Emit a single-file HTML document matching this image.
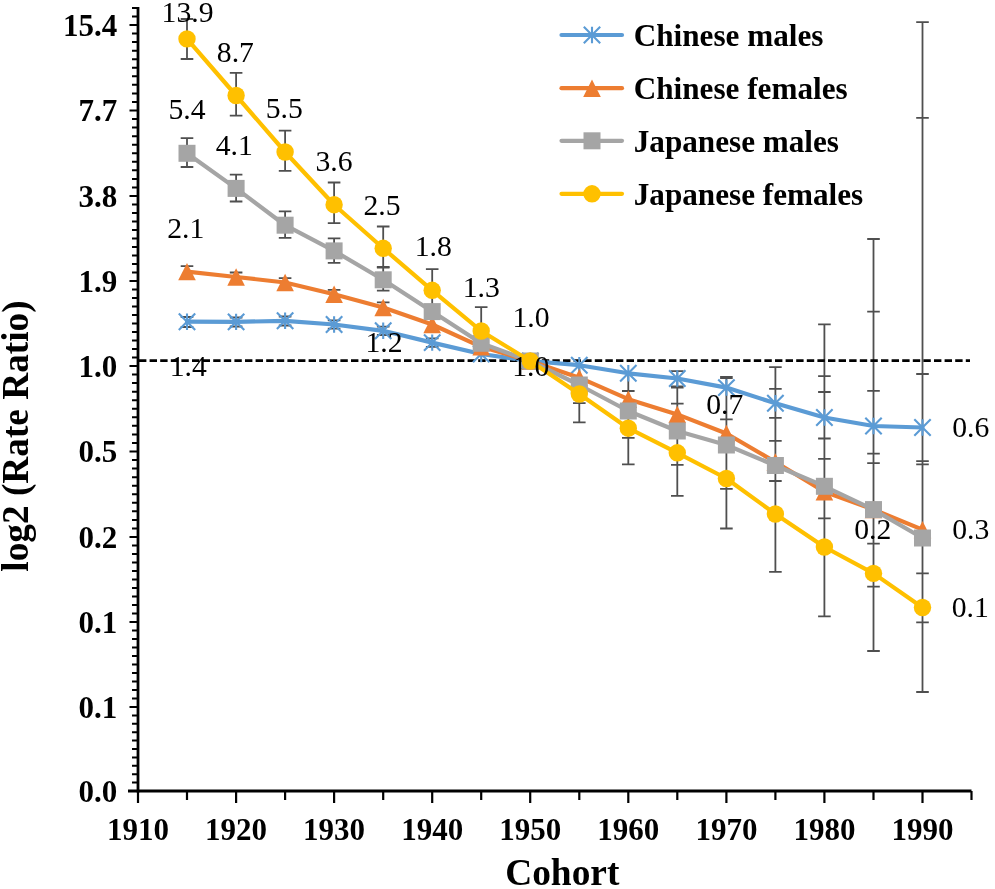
<!DOCTYPE html>
<html lang="en"><head><meta charset="utf-8"><title>Cohort rate ratio chart</title>
<style>html,body{margin:0;padding:0;background:#fff}svg{display:block}</style></head>
<body>
<svg width="995" height="889" viewBox="0 0 995 889">
<rect width="995" height="889" fill="#fff"/>
<g stroke="#4f4f4f" stroke-width="1.8" fill="none">
<path d="M187.0 19V59M180.7 19H193.3M180.7 59H193.3"/>
<path d="M187.0 138.2V167M180.7 138.2H193.3M180.7 167H193.3"/>
<path d="M187.0 266.2V279M180.7 266.2H193.3"/>
<path d="M187.0 317V327M180.7 317H193.3M180.7 327H193.3"/>
<path d="M236.1 72.9V115.6M229.8 72.9H242.4M229.8 115.6H242.4"/>
<path d="M236.1 174.6V201.5M229.8 174.6H242.4M229.8 201.5H242.4"/>
<path d="M236.1 272.5V283M229.8 272.5H242.4"/>
<path d="M236.1 317.5V326.5M229.8 317.5H242.4M229.8 326.5H242.4"/>
<path d="M285.1 130.7V170.9M278.8 130.7H291.4M278.8 170.9H291.4"/>
<path d="M285.1 211.4V237.8M278.8 211.4H291.4M278.8 237.8H291.4"/>
<path d="M285.1 278.2V290M278.8 278.2H291.4"/>
<path d="M285.1 316.5V325.5M278.8 316.5H291.4M278.8 325.5H291.4"/>
<path d="M334.1 182.5V223.2M327.8 182.5H340.4M327.8 223.2H340.4"/>
<path d="M334.1 238.3V262.9M327.8 238.3H340.4M327.8 262.9H340.4"/>
<path d="M334.1 289.8V300M327.8 289.8H340.4"/>
<path d="M334.1 320.3V328.7M327.8 320.3H340.4M327.8 328.7H340.4"/>
<path d="M383.2 226.5V267.5M376.9 226.5H389.5M376.9 267.5H389.5"/>
<path d="M383.2 267V290.6M376.9 267H389.5M376.9 290.6H389.5"/>
<path d="M383.2 302.4V314M376.9 302.4H389.5"/>
<path d="M383.2 326.6V335M376.9 326.6H389.5M376.9 335H389.5"/>
<path d="M432.2 269.2V312M425.9 269.2H438.5"/>
<path d="M432.2 338.4V346.8M425.9 338.4H438.5M425.9 346.8H438.5"/>
<path d="M481.2 307.2V356M474.9 307.2H487.5"/>
<path d="M579.3 367V422.3M573.0 403.1H585.6M573.0 422.3H585.6"/>
<path d="M628.3 373V464.3M622.0 391H634.6M622.0 437.8H634.6M622.0 464.3H634.6"/>
<path d="M677.3 371.2V495.8M671.0 371.2H683.6M671.0 386.5H683.6M671.0 387.5H683.6M671.0 403.6H683.6M671.0 464.8H683.6M671.0 495.8H683.6"/>
<path d="M726.4 377V528.5M720.1 377H732.7M720.1 378H732.7M720.1 419.3H732.7M720.1 488.9H732.7M720.1 528.5H732.7"/>
<path d="M775.4 367.1V571.9M769.1 367.1H781.7M769.1 388.8H781.7M769.1 417.8H781.7M769.1 440.8H781.7M769.1 481H781.7M769.1 571.9H781.7"/>
<path d="M824.4 324.3V616.4M818.1 324.3H830.7M818.1 376.1H830.7M818.1 392H830.7M818.1 438.5H830.7M818.1 458.8H830.7M818.1 518.4H830.7M818.1 616.4H830.7"/>
<path d="M873.5 239V651M867.2 239H879.8M867.2 311.7H879.8M867.2 390.8H879.8M867.2 453.6H879.8M867.2 463.2H879.8M867.2 543.7H879.8M867.2 586.7H879.8M867.2 651H879.8"/>
<path d="M922.5 22.2V692M916.2 22.2H928.8M916.2 117.8H928.8M916.2 374H928.8M916.2 461.2H928.8M916.2 464.4H928.8M916.2 573.4H928.8M916.2 622.3H928.8M916.2 692H928.8"/>
</g>
<path d="M139 360.6H970" stroke="#000" stroke-width="2.9" stroke-dasharray="7.4 3.2" fill="none"/>
<polyline points="187.0,321.7 236.1,321.9 285.1,320.8 334.1,324.5 383.2,330.8 432.2,342.6 481.2,354 530.2,361 579.3,365.2 628.3,373.3 677.3,378.5 726.4,387.6 775.4,403.3 824.4,417.5 873.5,426 922.5,427.5" fill="none" stroke="#5b9bd5" stroke-width="4.2" stroke-linejoin="round" stroke-linecap="round"/>
<path d="M178.8 313.5L195.2 329.9M178.8 329.9L195.2 313.5M187.0 313.5V329.9" stroke="#5b9bd5" stroke-width="2.1" fill="none"/>
<path d="M227.9 313.7L244.3 330.1M227.9 330.1L244.3 313.7M236.1 313.7V330.1" stroke="#5b9bd5" stroke-width="2.1" fill="none"/>
<path d="M276.9 312.6L293.3 329.0M276.9 329.0L293.3 312.6M285.1 312.6V329.0" stroke="#5b9bd5" stroke-width="2.1" fill="none"/>
<path d="M325.9 316.3L342.3 332.7M325.9 332.7L342.3 316.3M334.1 316.3V332.7" stroke="#5b9bd5" stroke-width="2.1" fill="none"/>
<path d="M375.0 322.6L391.4 339.0M375.0 339.0L391.4 322.6M383.2 322.6V339.0" stroke="#5b9bd5" stroke-width="2.1" fill="none"/>
<path d="M424.0 334.4L440.4 350.8M424.0 350.8L440.4 334.4M432.2 334.4V350.8" stroke="#5b9bd5" stroke-width="2.1" fill="none"/>
<path d="M473.0 345.8L489.4 362.2M473.0 362.2L489.4 345.8M481.2 345.8V362.2" stroke="#5b9bd5" stroke-width="2.1" fill="none"/>
<path d="M522.0 352.8L538.5 369.2M522.0 369.2L538.5 352.8M530.2 352.8V369.2" stroke="#5b9bd5" stroke-width="2.1" fill="none"/>
<path d="M571.1 357.0L587.5 373.4M571.1 373.4L587.5 357.0M579.3 357.0V373.4" stroke="#5b9bd5" stroke-width="2.1" fill="none"/>
<path d="M620.1 365.1L636.5 381.5M620.1 381.5L636.5 365.1M628.3 365.1V381.5" stroke="#5b9bd5" stroke-width="2.1" fill="none"/>
<path d="M669.1 370.3L685.5 386.7M669.1 386.7L685.5 370.3M677.3 370.3V386.7" stroke="#5b9bd5" stroke-width="2.1" fill="none"/>
<path d="M718.2 379.4L734.6 395.8M718.2 395.8L734.6 379.4M726.4 379.4V395.8" stroke="#5b9bd5" stroke-width="2.1" fill="none"/>
<path d="M767.2 395.1L783.6 411.5M767.2 411.5L783.6 395.1M775.4 395.1V411.5" stroke="#5b9bd5" stroke-width="2.1" fill="none"/>
<path d="M816.2 409.3L832.6 425.7M816.2 425.7L832.6 409.3M824.4 409.3V425.7" stroke="#5b9bd5" stroke-width="2.1" fill="none"/>
<path d="M865.3 417.8L881.7 434.2M865.3 434.2L881.7 417.8M873.5 417.8V434.2" stroke="#5b9bd5" stroke-width="2.1" fill="none"/>
<path d="M914.3 419.3L930.7 435.7M914.3 435.7L930.7 419.3M922.5 419.3V435.7" stroke="#5b9bd5" stroke-width="2.1" fill="none"/>
<polyline points="187.0,271.6 236.1,277 285.1,282.5 334.1,294.2 383.2,307.5 432.2,324.5 481.2,346.8 530.2,361 579.3,377.7 628.3,399.2 677.3,414.4 726.4,433.5 775.4,462 824.4,491.8 873.5,509.5 922.5,529.6" fill="none" stroke="#ed7d31" stroke-width="4.2" stroke-linejoin="round" stroke-linecap="round"/>
<path d="M187.0 262.9L195.8 280.3H178.2Z" fill="#ed7d31"/>
<path d="M236.1 268.3L244.9 285.7H227.3Z" fill="#ed7d31"/>
<path d="M285.1 273.8L293.9 291.2H276.3Z" fill="#ed7d31"/>
<path d="M334.1 285.5L342.9 302.9H325.3Z" fill="#ed7d31"/>
<path d="M383.2 298.8L392.0 316.2H374.4Z" fill="#ed7d31"/>
<path d="M432.2 315.8L441.0 333.2H423.4Z" fill="#ed7d31"/>
<path d="M481.2 338.1L490.0 355.5H472.4Z" fill="#ed7d31"/>
<path d="M530.2 352.3L539.0 369.7H521.5Z" fill="#ed7d31"/>
<path d="M579.3 369.0L588.1 386.4H570.5Z" fill="#ed7d31"/>
<path d="M628.3 390.5L637.1 407.9H619.5Z" fill="#ed7d31"/>
<path d="M677.3 405.7L686.1 423.1H668.5Z" fill="#ed7d31"/>
<path d="M726.4 424.8L735.2 442.2H717.6Z" fill="#ed7d31"/>
<path d="M775.4 453.3L784.2 470.7H766.6Z" fill="#ed7d31"/>
<path d="M824.4 483.1L833.2 500.5H815.6Z" fill="#ed7d31"/>
<path d="M873.5 500.8L882.3 518.2H864.7Z" fill="#ed7d31"/>
<path d="M922.5 520.9L931.3 538.3H913.7Z" fill="#ed7d31"/>
<polyline points="187.0,153.3 236.1,188.4 285.1,225.2 334.1,250.9 383.2,279.8 432.2,311.6 481.2,343.3 530.2,361 579.3,385 628.3,411 677.3,431 726.4,445 775.4,465.5 824.4,486.3 873.5,509.6 922.5,538" fill="none" stroke="#a5a5a5" stroke-width="4.2" stroke-linejoin="round" stroke-linecap="round"/>
<rect x="178.5" y="144.8" width="17" height="17" fill="#a5a5a5"/>
<rect x="227.6" y="179.9" width="17" height="17" fill="#a5a5a5"/>
<rect x="276.6" y="216.7" width="17" height="17" fill="#a5a5a5"/>
<rect x="325.6" y="242.4" width="17" height="17" fill="#a5a5a5"/>
<rect x="374.7" y="271.3" width="17" height="17" fill="#a5a5a5"/>
<rect x="423.7" y="303.1" width="17" height="17" fill="#a5a5a5"/>
<rect x="472.7" y="334.8" width="17" height="17" fill="#a5a5a5"/>
<rect x="521.8" y="352.5" width="17" height="17" fill="#a5a5a5"/>
<rect x="570.8" y="376.5" width="17" height="17" fill="#a5a5a5"/>
<rect x="619.8" y="402.5" width="17" height="17" fill="#a5a5a5"/>
<rect x="668.8" y="422.5" width="17" height="17" fill="#a5a5a5"/>
<rect x="717.9" y="436.5" width="17" height="17" fill="#a5a5a5"/>
<rect x="766.9" y="457.0" width="17" height="17" fill="#a5a5a5"/>
<rect x="815.9" y="477.8" width="17" height="17" fill="#a5a5a5"/>
<rect x="865.0" y="501.1" width="17" height="17" fill="#a5a5a5"/>
<rect x="914.0" y="529.5" width="17" height="17" fill="#a5a5a5"/>
<polyline points="187.0,38.9 236.1,95.5 285.1,152 334.1,204.7 383.2,248.3 432.2,290.3 481.2,331 530.2,361 579.3,394 628.3,428.2 677.3,452.8 726.4,478.5 775.4,514 824.4,547 873.5,573.4 922.5,607.5" fill="none" stroke="#ffc000" stroke-width="4.2" stroke-linejoin="round" stroke-linecap="round"/>
<circle cx="187.0" cy="38.9" r="8.7" fill="#ffc000"/>
<circle cx="236.1" cy="95.5" r="8.7" fill="#ffc000"/>
<circle cx="285.1" cy="152" r="8.7" fill="#ffc000"/>
<circle cx="334.1" cy="204.7" r="8.7" fill="#ffc000"/>
<circle cx="383.2" cy="248.3" r="8.7" fill="#ffc000"/>
<circle cx="432.2" cy="290.3" r="8.7" fill="#ffc000"/>
<circle cx="481.2" cy="331" r="8.7" fill="#ffc000"/>
<circle cx="530.2" cy="361" r="8.7" fill="#ffc000"/>
<circle cx="579.3" cy="394" r="8.7" fill="#ffc000"/>
<circle cx="628.3" cy="428.2" r="8.7" fill="#ffc000"/>
<circle cx="677.3" cy="452.8" r="8.7" fill="#ffc000"/>
<circle cx="726.4" cy="478.5" r="8.7" fill="#ffc000"/>
<circle cx="775.4" cy="514" r="8.7" fill="#ffc000"/>
<circle cx="824.4" cy="547" r="8.7" fill="#ffc000"/>
<circle cx="873.5" cy="573.4" r="8.7" fill="#ffc000"/>
<circle cx="922.5" cy="607.5" r="8.7" fill="#ffc000"/>
<g stroke="#000" fill="none">
<path d="M138 7V792.4" stroke-width="2.8"/>
<path d="M128 791.0H971.5" stroke-width="2.8"/>
<path d="M129.5 25.0H138M132 33.55H138M132 42.10H138M132 50.65H138M132 59.20H138M132 67.75H138M132 76.30H138M132 84.85H138M132 93.40H138M132 101.95H138M129.5 110.5H138M132 119.05H138M132 127.60H138M132 136.15H138M132 144.70H138M132 153.25H138M132 161.80H138M132 170.35H138M132 178.90H138M132 187.45H138M129.5 196.0H138M132 204.50H138M132 213.00H138M132 221.50H138M132 230.00H138M132 238.50H138M132 247.00H138M132 255.50H138M132 264.00H138M132 272.50H138M129.5 281.0H138M132 289.50H138M132 298.00H138M132 306.50H138M132 315.00H138M132 323.50H138M132 332.00H138M132 340.50H138M132 349.00H138M132 357.50H138M129.5 366.0H138M132 374.55H138M132 383.10H138M132 391.65H138M132 400.20H138M132 408.75H138M132 417.30H138M132 425.85H138M132 434.40H138M132 442.95H138M129.5 451.5H138M132 460.05H138M132 468.60H138M132 477.15H138M132 485.70H138M132 494.25H138M132 502.80H138M132 511.35H138M132 519.90H138M132 528.45H138M129.5 537.0H138M132 545.50H138M132 554.00H138M132 562.50H138M132 571.00H138M132 579.50H138M132 588.00H138M132 596.50H138M132 605.00H138M132 613.50H138M129.5 622.0H138M132 630.50H138M132 639.00H138M132 647.50H138M132 656.00H138M132 664.50H138M132 673.00H138M132 681.50H138M132 690.00H138M132 698.50H138M129.5 707.0H138M132 715.40H138M132 723.80H138M132 732.20H138M132 740.60H138M132 749.00H138M132 757.40H138M132 765.80H138M132 774.20H138M132 782.60H138M129.5 791.0H138M132 16.45H138M132 7.90H138" stroke-width="2"/>
<path d="M138.0 791.0V803.0M187.0 791.0V800.0M236.1 791.0V803.0M285.1 791.0V800.0M334.1 791.0V803.0M383.2 791.0V800.0M432.2 791.0V803.0M481.2 791.0V800.0M530.2 791.0V803.0M579.3 791.0V800.0M628.3 791.0V803.0M677.3 791.0V800.0M726.4 791.0V803.0M775.4 791.0V800.0M824.4 791.0V803.0M873.5 791.0V800.0M922.5 791.0V803.0M971.5 791.0V800.0" stroke-width="2.2"/>
</g>
<g font-family="'Liberation Serif', 'Times New Roman', serif" font-weight="bold" font-size="31" fill="#000">
<text x="117.3" y="35.7" text-anchor="end">15.4</text>
<text x="117.3" y="121.2" text-anchor="end">7.7</text>
<text x="117.3" y="206.7" text-anchor="end">3.8</text>
<text x="117.3" y="291.7" text-anchor="end">1.9</text>
<text x="117.3" y="376.7" text-anchor="end">1.0</text>
<text x="117.3" y="462.2" text-anchor="end">0.5</text>
<text x="117.3" y="547.7" text-anchor="end">0.2</text>
<text x="117.3" y="632.7" text-anchor="end">0.1</text>
<text x="117.3" y="717.7" text-anchor="end">0.1</text>
<text x="117.3" y="801.7" text-anchor="end">0.0</text>
<text x="138.0" y="839.5" text-anchor="middle">1910</text>
<text x="236.1" y="839.5" text-anchor="middle">1920</text>
<text x="334.1" y="839.5" text-anchor="middle">1930</text>
<text x="432.2" y="839.5" text-anchor="middle">1940</text>
<text x="530.2" y="839.5" text-anchor="middle">1950</text>
<text x="628.3" y="839.5" text-anchor="middle">1960</text>
<text x="726.4" y="839.5" text-anchor="middle">1970</text>
<text x="824.4" y="839.5" text-anchor="middle">1980</text>
<text x="922.5" y="839.5" text-anchor="middle">1990</text>
</g>
<g font-family="'Liberation Serif', 'Times New Roman', serif" font-weight="bold" fill="#000">
<text x="562.3" y="884.5" font-size="37.4" text-anchor="middle">Cohort</text>
<text transform="translate(27.8 436) rotate(-90)" font-size="37.3" text-anchor="middle">log2 (Rate Ratio)</text>
<path d="M561.5 35H622" stroke="#5b9bd5" stroke-width="4.2" stroke-linecap="round" fill="none"/>
<text x="633.7" y="45.5" font-size="31.2">Chinese males</text>
<path d="M561.5 88.2H622" stroke="#ed7d31" stroke-width="4.2" stroke-linecap="round" fill="none"/>
<text x="633.7" y="99" font-size="31.2">Chinese females</text>
<path d="M561.5 140.8H622" stroke="#a5a5a5" stroke-width="4.2" stroke-linecap="round" fill="none"/>
<text x="633.7" y="152" font-size="31.2">Japanese males</text>
<path d="M561.5 193.8H622" stroke="#ffc000" stroke-width="4.2" stroke-linecap="round" fill="none"/>
<text x="633.7" y="204.5" font-size="31.2">Japanese females</text>
<path d="M583.8 26.8L600.2 43.2M583.8 43.2L600.2 26.8M592.0 26.8V43.2" stroke="#5b9bd5" stroke-width="2.1" fill="none"/>
<path d="M592.0 79.5L600.8 96.9H583.2Z" fill="#ed7d31"/>
<rect x="583.5" y="132.3" width="17" height="17" fill="#a5a5a5"/>
<circle cx="592" cy="193.8" r="8.7" fill="#ffc000"/>
</g>
<g font-family="'Liberation Serif', 'Times New Roman', serif" font-size="29.7" fill="#000" text-anchor="middle">
<text x="187.6" y="22">13.9</text>
<text x="235.4" y="61.6">8.7</text>
<text x="284.2" y="118">5.5</text>
<text x="334" y="171">3.6</text>
<text x="382" y="214.7">2.5</text>
<text x="433.2" y="256">1.8</text>
<text x="481.3" y="296.8">1.3</text>
<text x="531" y="327">1.0</text>
<text x="187" y="119.3">5.4</text>
<text x="234.2" y="154.5">4.1</text>
<text x="185.7" y="238.3">2.1</text>
<text x="188.3" y="376">1.4</text>
<text x="384" y="352">1.2</text>
<text x="530.7" y="376">1.0</text>
<text x="724.7" y="414.2">0.7</text>
<text x="970.7" y="436.8">0.6</text>
<text x="970.7" y="539">0.3</text>
<text x="872.8" y="539">0.2</text>
<text x="970.2" y="617">0.1</text>
</g>
</svg>
</body></html>
